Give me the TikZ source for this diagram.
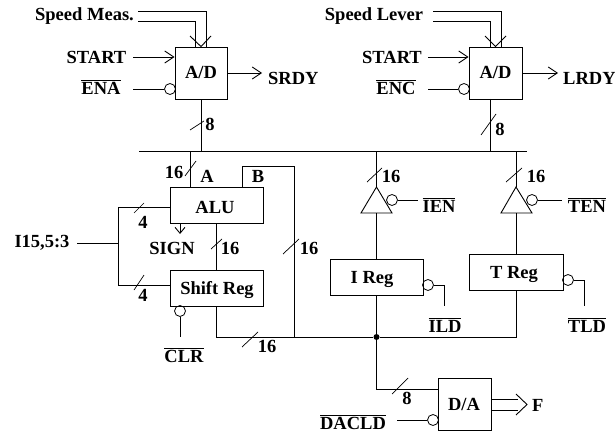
\documentclass[tikz,border=0pt]{standalone}
\usepackage{fontspec}
\setmainfont{Liberation Serif}
\usetikzlibrary{arrows.meta}
\tikzset{
  lbl/.style={font=\fontsize{18.5}{20}\selectfont\bfseries, inner sep=0pt},
  box/.style={draw, line width=0.9pt, inner sep=0pt, font=\fontsize{18.5}{20}\selectfont\bfseries},
  bubble/.style={draw, circle, line width=0.8pt, inner sep=0pt, minimum size=11pt},
  wire/.style={draw, line width=0.9pt},
  tick/.style={draw, line width=0.7pt},
  arr/.style={draw, line width=0.9pt, -{Straight Barb[length=9pt,width=12pt]}}
}
\newcommand{\nbar}[1]{$\overline{\mbox{#1}}$}
\begin{document}
\begin{tikzpicture}[x=1pt,y=-1pt]
\useasboundingbox (0,0) rectangle (615,433);

\node[box, minimum width=52pt, minimum height=52pt] (ads) at (201,73) {};
\node[lbl] at (201,72) {A/D};
\node[box, minimum width=53pt, minimum height=52pt] (adl) at (495.5,73) {};
\node[lbl] at (495.5,72) {A/D};
\node[box, minimum width=93pt, minimum height=36pt] (alu) at (216.5,205) {};
\node[lbl] at (215,207) {ALU};
\node[box, minimum width=93pt, minimum height=36pt] (shift) at (216.5,288) {};
\node[lbl] at (217,290) {Shift Reg};
\node[box, minimum width=93pt, minimum height=36pt] (ireg) at (376.5,277) {};
\node[lbl] at (372,279) {I Reg};
\node[box, minimum width=94pt, minimum height=36pt] (treg) at (516,272) {};
\node[lbl] at (514,274) {T Reg};
\node[box, minimum width=53pt, minimum height=52pt] (da) at (464.5,404) {};
\node[lbl] at (464,404) {D/A};

\node[lbl] (speedm) at (84.5,16) {Speed Meas.};
\node[lbl] (speedl) at (374,16) {Speed Lever};
\node[lbl] (starts) at (96.5,57) {START};
\node[lbl] (startl) at (392,57) {START};
\node[lbl] (ena) at (101,87) {\nbar{ENA}};
\node[lbl] (enc) at (396,87) {\nbar{ENC}};
\node[lbl, anchor=west] (srdy) at (268,78) {SRDY};
\node[lbl, anchor=west] (lrdy) at (563,78) {LRDY};
\node[lbl] at (210,124) {8};
\node[lbl] at (500,129) {8};
\node[lbl] at (174,172) {16};
\node[lbl] at (207,176) {A};
\node[lbl] at (258,176) {B};
\node[lbl] at (143,222) {4};
\node[lbl] at (143,295) {4};
\node[lbl] (iinst) at (42,243) {I15,5:3};
\node[lbl] (sign) at (172,248) {SIGN};
\node[lbl] at (230,248) {16};
\node[lbl] at (309,248) {16};
\node[lbl] at (267,346) {16};
\node[lbl] at (391,176) {16};
\node[lbl] at (536,176) {16};
\node[lbl] (clr) at (184,355) {\nbar{CLR}};
\node[lbl] (ien) at (439,205) {\nbar{IEN}};
\node[lbl] (ten) at (587,205) {\nbar{TEN}};
\node[lbl] (ild) at (445,325) {\nbar{ILD}};
\node[lbl] (tld) at (587,325) {\nbar{TLD}};
\node[lbl] at (407,398) {8};
\node[lbl] (dacld) at (353,422) {\nbar{DACLD}};
\node[lbl, anchor=west] (f) at (532,405) {F};

\node[bubble] (bena) at (170,89) {};
\node[bubble] (benc) at (464,89) {};
\node[bubble] (bclr) at (180,311) {};
\node[bubble] (bien) at (392,200) {};
\node[bubble] (bten) at (532,200) {};
\node[bubble] (bild) at (428,285) {};
\node[bubble] (btld) at (568,280) {};
\node[bubble] (bdac) at (433,420) {};

\coordinate (busl) at (139,151);
\coordinate (busr) at (527,151);
\coordinate (jinst) at (118,243);
\coordinate (jb) at (294,337);
\node[fill, circle, inner sep=0pt, minimum size=6pt] (jdot) at (376.5,337) {};

% speed inputs
\path[wire] (138,11) -- (206,11) -- (206,47);
\path[wire] (138,21) -- (195,21) -- (195,47);
\path[wire] (190,36) -- (ads.north) -- (211,36);
\path[wire] (433,11) -- (501,11) -- (501,47);
\path[wire] (433,21) -- (490,21) -- (490,47);
\path[wire] (485,36) -- (adl.north) -- (506,36);

% control lines
\path[arr] (133,57) -- (ads.west |- starts);
\path[arr] (428,57) -- (adl.west |- startl);
\path[wire] (133,89) -- (bena);
\path[wire] (428,89) -- (benc);
\path[arr] (ads.east) -- (262,73);
\path[arr] (adl.east) -- (558,73);

% bus
\path[wire] (ads.south) -- (ads.south |- busl);
\path[wire] (490,99) -- (490,151);
\path[wire] (busl) -- (busr);
\path[wire] (190,151) -- (190,187);
\path[wire] (242,187) -- (242,166) -- (jb |- 0,166) -- (jb);

% ALU and shifter
\path[wire] (118,207) -- (alu.west |- 0,207);
\path[wire] (118,285) -- (shift.west |- 0,285);
\path[wire] (118,207) -- (118,285);
\path[wire] (77,243) -- (jinst);
\path[draw, line width=0.9pt, -{Straight Barb[length=6pt,width=10pt]}] (180,223) -- (180,234);
\path[wire] (alu.south) -- (shift.north);
\path[wire] (bclr) -- (180,337);
\path[wire] (shift.south) -- (216.5,337) -- (jdot);

% buffers
\coordinate (iapex) at (376.5,187);
\coordinate (tapex) at (516,187);
\path[wire] (376.5,151) -- (iapex);
\path[wire] (iapex) -- (361,213) -- (392,213) -- cycle;
\path[wire] (376.5,213) -- (ireg.north);
\path[wire] (516,151) -- (tapex);
\path[wire] (tapex) -- (501,213) -- (532,213) -- cycle;
\path[wire] (516,213) -- (treg.north);
\path[wire] (bien) -- (418,200);
\path[wire] (bten) -- (562,200);

% registers
\path[wire] (bild) -- (444,285) -- (444,306);
\path[wire] (btld) -- (584,280) -- (584,306);
\path[wire] (ireg.south) -- (jdot);
\path[wire] (jdot) -- (516,337) -- (treg.south);

% D/A
\path[wire] (jdot) -- (376.5,389) -- (da.west |- 0,389);
\path[wire] (397,420) -- (bdac);
\path[wire] (491,399) -- (518,399);
\path[wire] (491,410) -- (518,410);
\path[wire] (516,394) -- (527,404.5) -- (516,415);

% width marks
\path[tick] (190,130) -- (204,121);
\path[tick] (481,135) -- (496,114);
\path[tick] (185,176) -- (196,161);
\path[tick] (134,213) -- (144,203);
\path[tick] (134,290) -- (144,275);
\path[tick] (211,249) -- (222,239);
\path[tick] (283,254) -- (299,239);
\path[tick] (242,347) -- (258,332);
\path[tick] (367,182) -- (382,168);
\path[tick] (506,182) -- (522,168);
\path[tick] (392,394) -- (408,378);
\end{tikzpicture}
\end{document}
